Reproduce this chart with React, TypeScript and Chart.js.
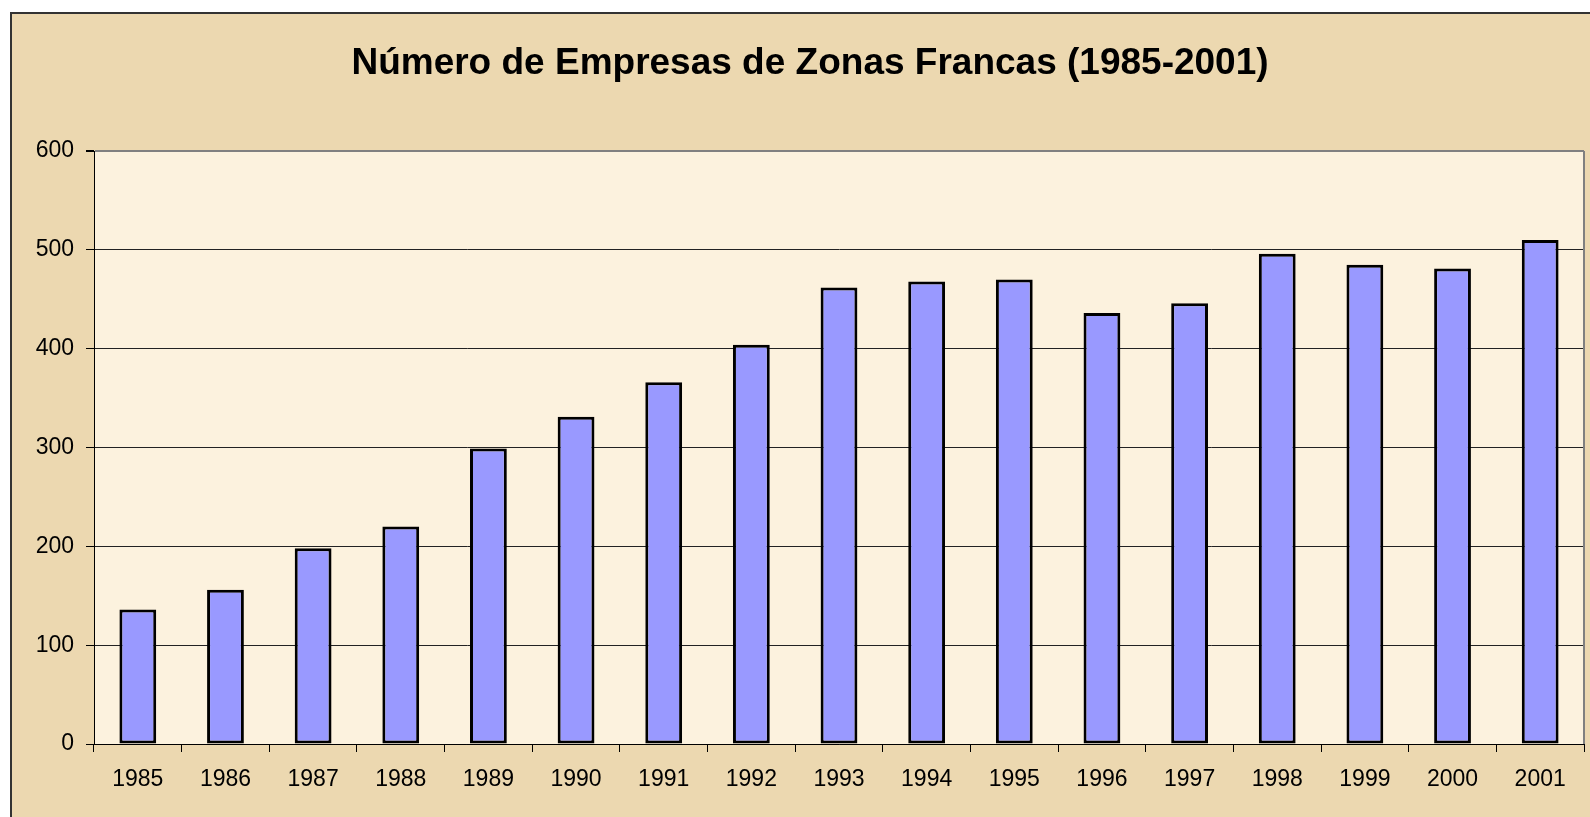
import React, { useEffect, useRef } from 'react';
import { Chart, registerables } from 'chart.js';

Chart.register(...registerables);

const titleText = 'Número de Empresas de Zonas Francas (1985-2001)';
const years = ['1985', '1986', '1987', '1988', '1989', '1990', '1991', '1992', '1993', '1994', '1995', '1996', '1997', '1998', '1999', '2000', '2001'];
const companies = [136, 156, 198, 220, 299, 331, 366, 404, 462, 468, 470, 436, 446, 496, 485, 481, 510];
const yMin = 0;
const yMax = 600;
const yStep = 100;

export default function App() {
  const ref = useRef<HTMLCanvasElement>(null);

  useEffect(() => {
    document.body.style.margin = '0';
    const canvas = ref.current;
    if (!canvas) return;

    const framePlugin = {
      id: 'frame',
      beforeDraw(chart: any) {
        const { ctx, width, height, chartArea } = chart;
        ctx.save();
        ctx.fillStyle = '#ffffff';
        ctx.fillRect(0, 0, width, height);
        ctx.fillStyle = '#ECD8B0';
        ctx.fillRect(10, 12, width - 10, height - 12);
        ctx.strokeStyle = '#333333';
        ctx.lineWidth = 2;
        ctx.beginPath();
        ctx.moveTo(11, height);
        ctx.lineTo(11, 13);
        ctx.lineTo(width, 13);
        ctx.stroke();
        ctx.fillStyle = '#FCF2DE';
        ctx.fillRect(chartArea.left, chartArea.top, chartArea.right - chartArea.left, chartArea.bottom - chartArea.top);
        ctx.fillStyle = '#000000';
        ctx.font = 'bold 37px "Liberation Sans", Arial, sans-serif';
        ctx.textAlign = 'center';
        ctx.textBaseline = 'middle';
        ctx.fillText(titleText, 810, 64);
        ctx.restore();
      },
      afterDraw(chart: any) {
        const { ctx, chartArea } = chart;
        ctx.save();
        ctx.strokeStyle = '#808080';
        ctx.lineWidth = 2;
        ctx.beginPath();
        ctx.moveTo(chartArea.right, chartArea.top);
        ctx.lineTo(chartArea.right, chartArea.bottom);
        ctx.stroke();
        ctx.restore();
      },
    };

    const chart = new Chart(canvas, {
      type: 'bar',
      data: {
        labels: years,
        datasets: [
          {
            label: 'Empresas',
            data: companies,
            backgroundColor: '#9999FF',
            borderColor: '#000000',
            borderWidth: 3,
            borderSkipped: false,
            barPercentage: 0.42,
            categoryPercentage: 1,
          },
        ],
      },
      options: {
        animation: false,
        responsive: false,
        maintainAspectRatio: false,
        devicePixelRatio: 1,
        layout: { padding: { top: 151, right: 6, left: 0, bottom: 0 } },
        plugins: {
          legend: { display: false },
          title: { display: false },
          tooltip: { enabled: false },
        },
        scales: {
          x: {
            afterFit(scale: any) {
              scale.height = 73;
            },
            grid: {
              offset: true,
              drawOnChartArea: false,
              drawTicks: true,
              tickLength: 8,
              color: '#000000',
            },
            border: { display: true, color: '#000000', width: 1 },
            ticks: {
              color: '#000000',
              padding: 14,
              maxRotation: 0,
              autoSkip: false,
              font: { family: '"Liberation Sans", Arial, sans-serif', size: 23 },
            },
          },
          y: {
            min: yMin,
            max: yMax,
            afterFit(scale: any) {
              scale.width = 94;
            },
            grid: {
              color: (c: any) => (c.tick && c.tick.value === yMax ? '#808080' : '#222222'),
              lineWidth: (c: any) => (c.tick && c.tick.value === yMax ? 2 : 1),
              tickColor: '#000000',
              tickLength: 8,
              drawTicks: true,
            },
            border: { display: true, color: '#000000', width: 1 },
            ticks: {
              stepSize: yStep,
              color: '#000000',
              padding: 12,
              font: { family: '"Liberation Sans", Arial, sans-serif', size: 23 },
            },
          },
        },
      },
      plugins: [framePlugin],
    });

    return () => chart.destroy();
  }, []);

  return <canvas ref={ref} width={1590} height={817} style={{ display: 'block', width: 1590, height: 817 }} />;
}
